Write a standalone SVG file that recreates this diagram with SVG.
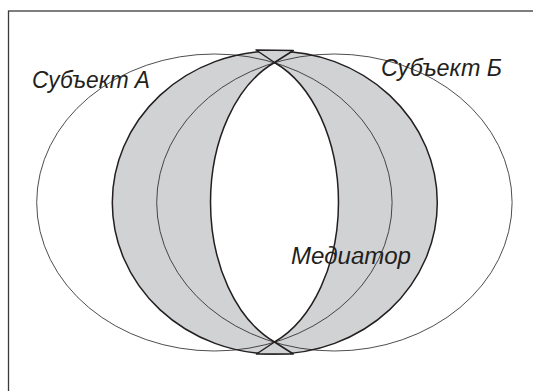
<svg xmlns="http://www.w3.org/2000/svg" width="533" height="391" viewBox="0 0 533 391">
<style>
.thick{stroke:#231f20;stroke-width:1.5;}
.thin{fill:none;stroke:#231f20;stroke-width:0.8;}
.lbl{font-family:"Liberation Sans",Arial,sans-serif;font-style:italic;font-size:23px;fill:#231f20;}
</style>
<rect x="8.5" y="11" width="530" height="390" fill="#fff" stroke="#3a3a3a" stroke-width="1.3"/>
<g id="mediator">
<ellipse class="thick" cx="274.8" cy="202.5" rx="162.5" ry="151.5" fill="#d1d2d4"/>
<path class="thick" fill="#fff" d="M274.5,62.5 A100.5 150 0 0 0 274.5,342 A100.5 150 0 0 0 274.5,62.5 Z"/>
<polygon class="thick" fill="#d1d2d4" points="256,50 293.3,50.5 274.5,62.5" stroke-linejoin="round"/>
<polygon class="thick" fill="#d1d2d4" points="256.5,354 293.3,354 274.5,342" stroke-linejoin="round"/>
</g>
<g id="subjectA">
<ellipse class="thin" cx="214.4" cy="202.5" rx="177.7" ry="148.5"/>
</g>
<g id="subjectB">
<ellipse class="thin" cx="334.4" cy="202.5" rx="177.7" ry="148.5"/>
</g>
<g id="connectors"></g>
<g id="labels">
<text class="lbl" x="32" y="88" textLength="118" lengthAdjust="spacingAndGlyphs">Субъект А</text>
<text class="lbl" x="381" y="76" textLength="121" lengthAdjust="spacingAndGlyphs">Субъект Б</text>
<text class="lbl" x="291" y="264" textLength="120" lengthAdjust="spacingAndGlyphs">Медиатор</text>
</g>
</svg>
